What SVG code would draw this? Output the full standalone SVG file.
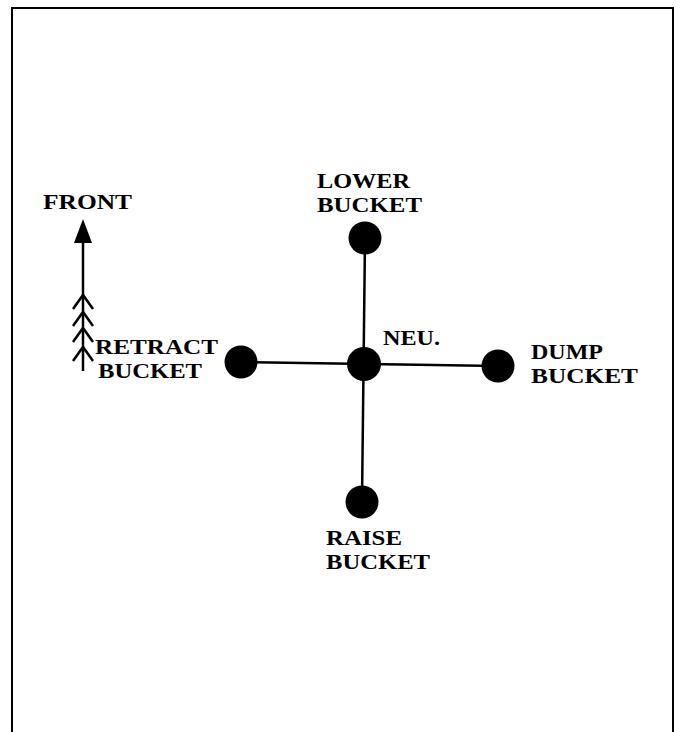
<svg xmlns="http://www.w3.org/2000/svg" width="680" height="732" viewBox="0 0 680 732">
<style>
.t{font-family:"Liberation Serif","DejaVu Serif",serif;font-weight:bold;font-size:21px;fill:#000}
.ln{stroke:#000;stroke-width:2.5;fill:none}
.n{fill:#000}
</style>
<rect width="680" height="732" fill="#fff"/>
<path d="M12,740 V8 H673 V740" stroke="#000" stroke-width="2" fill="none"/>
<g id="connectors">
<line class="ln" x1="365" y1="238" x2="362" y2="502"/>
<line class="ln" x1="241" y1="362" x2="498" y2="366"/>
</g>
<g id="front-arrow">
<line class="ln" x1="83" y1="236" x2="83" y2="371"/>
<polygon points="83,219 74,243 92,243" fill="#000"/>
<path class="ln" stroke-width="2" d="M73,309 L83,295 L93,309 M73,326 L83,312 L93,326 M73,342 L83,328 L93,342 M73,361 L83,347 L93,361"/>
<text class="t" x="43" y="209" textLength="89" lengthAdjust="spacingAndGlyphs">FRONT</text>
</g>
<g id="lower">
<circle class="n" cx="365" cy="238" r="16.5"/>
<text class="t" x="317" y="188" textLength="93" lengthAdjust="spacingAndGlyphs">LOWER</text>
<text class="t" x="317" y="212" textLength="105" lengthAdjust="spacingAndGlyphs">BUCKET</text>
</g>
<g id="neutral">
<circle class="n" cx="364" cy="364" r="17"/>
<text class="t" x="383" y="345" textLength="57" lengthAdjust="spacingAndGlyphs">NEU.</text>
</g>
<g id="retract">
<circle class="n" cx="241" cy="362" r="16.5"/>
<text class="t" x="95" y="354" textLength="123" lengthAdjust="spacingAndGlyphs">RETRACT</text>
<text class="t" x="98" y="378" textLength="104" lengthAdjust="spacingAndGlyphs">BUCKET</text>
</g>
<g id="dump">
<circle class="n" cx="498" cy="366" r="16.5"/>
<text class="t" x="531" y="359" textLength="72" lengthAdjust="spacingAndGlyphs">DUMP</text>
<text class="t" x="531" y="383" textLength="107" lengthAdjust="spacingAndGlyphs">BUCKET</text>
</g>
<g id="raise">
<circle class="n" cx="362" cy="502" r="16.5"/>
<text class="t" x="326" y="545" textLength="76" lengthAdjust="spacingAndGlyphs">RAISE</text>
<text class="t" x="326" y="569" textLength="104" lengthAdjust="spacingAndGlyphs">BUCKET</text>
</g>
</svg>
